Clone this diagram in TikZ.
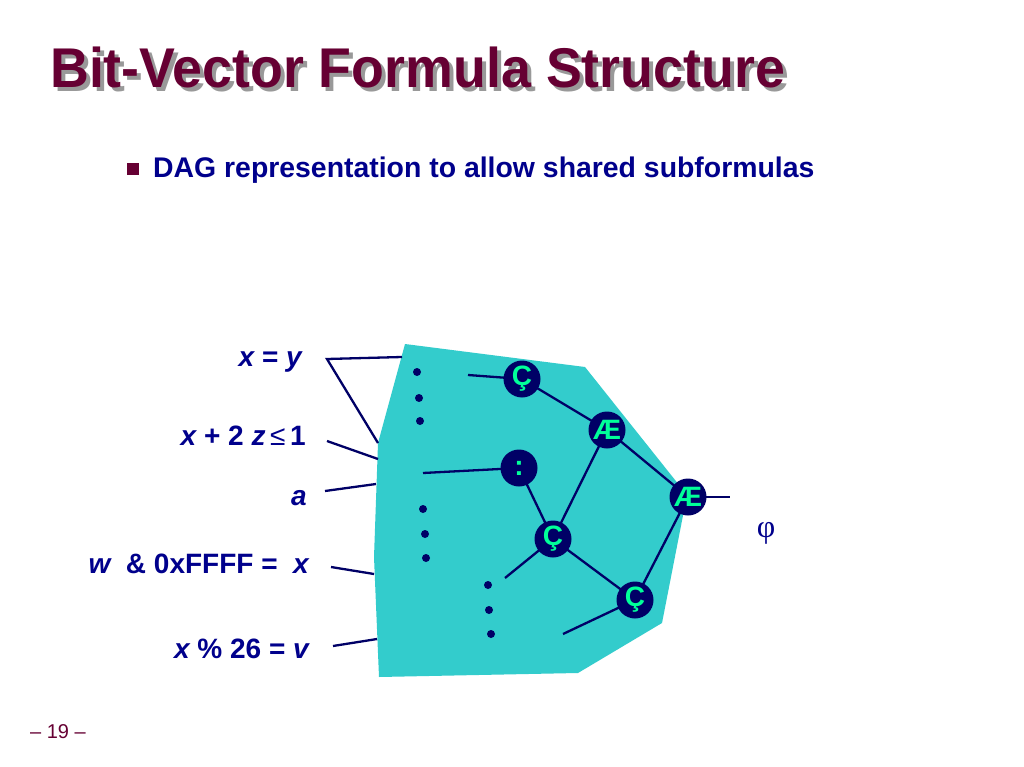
\documentclass[tikz,border=0pt]{standalone}
\usepackage{fontspec}
\setmainfont{Liberation Sans}
\newfontfamily\serifphi{Liberation Serif}
\begin{document}
\begin{tikzpicture}[x=1pt,y=-1pt,
  navyline/.style={draw=linenavy,line width=2.3pt},
  gate/.style={circle,fill=nodenavy,minimum size=37pt,inner sep=0pt,text=gategreen,font=\fontsize{28}{28}\selectfont\bfseries},
  lbl/.style={anchor=base east,inner sep=0pt,text=textnavy,font=\fontsize{28}{28}\selectfont\bfseries},
  dotmark/.style={circle,fill=nodenavy,minimum size=8pt,inner sep=0pt},
]
\definecolor{linenavy}{RGB}{0,0,102}
\definecolor{nodenavy}{RGB}{0,0,102}
\definecolor{textnavy}{RGB}{0,0,140}
\definecolor{gategreen}{RGB}{0,255,153}
\definecolor{maroon}{RGB}{102,0,51}
\definecolor{teal}{RGB}{51,204,204}
\definecolor{shadowgray}{RGB}{153,153,153}
\useasboundingbox (0,0) rectangle (1024,767);
\fill[white] (0,0) rectangle (1024,767);

% title with shadow
\node[anchor=base west,inner sep=0pt,text=shadowgray,font=\fontsize{56}{56}\selectfont\bfseries,xscale=0.96] (titleshadow) at (54,92) {Bit-Vector Formula Structure};
\node[anchor=base west,inner sep=0pt,text=maroon,font=\fontsize{56}{56}\selectfont\bfseries,xscale=0.96] (title) at (50,88) {Bit-Vector Formula Structure};

% bullet
\fill[maroon] (127,163) rectangle (139,175);
\node[anchor=base west,inner sep=0pt,text=textnavy,font=\fontsize{28.4}{28.4}\selectfont\bfseries] (sub) at (153,178) {DAG representation to allow shared subformulas};

% polygon
\fill[teal] (405,344) -- (585,367) -- (687,495) -- (662,623) -- (578,673) -- (379,677) -- (374,557) -- (378,443) -- cycle;

% labels
\node[lbl] (l1) at (302,366) {\itshape x\upshape{} = \itshape y};
\node[lbl] (l2) at (306,445) {\itshape x\upshape{} + 2 \itshape z\upshape{}\,{\mdseries ≤}\,1};
\node[lbl] (l3) at (307,505) {\itshape a};
\node[lbl] (l4) at (309,573) {\itshape w\upshape{}\ \ \& 0xFFFF =\ \ \itshape x};
\node[lbl] (l5) at (309,658) {\itshape x\upshape{} \% 26 = \itshape v};

% connector coordinates
\coordinate (j1) at (327,359);
\coordinate (e1a) at (402,357);
\coordinate (e1b) at (378,443);
\coordinate (j2) at (327,441);
\coordinate (e2) at (378,459);
\coordinate (j3) at (325,491);
\coordinate (e3) at (376,484);
\coordinate (j4) at (331,567);
\coordinate (e4) at (374,574);
\coordinate (j5) at (333,646);
\coordinate (e5) at (377,639);
\draw[navyline] (e1a) -- (j1) -- (e1b);
\draw[navyline] (j2) -- (e2);
\draw[navyline] (j3) -- (e3);
\draw[navyline] (j4) -- (e4);
\draw[navyline] (j5) -- (e5);

% gate positions
\coordinate (c1) at (522,379);
\coordinate (ae1) at (607,430);
\coordinate (col) at (519,468);
\coordinate (ae2) at (688,497);
\coordinate (c2) at (553,539);
\coordinate (c3) at (635,600);

\coordinate (in1) at (468,375);
\coordinate (in2) at (423,473);
\coordinate (in3) at (505,578);
\coordinate (in4) at (563,634);
\coordinate (out) at (730,497);

\draw[navyline] (in1) -- (c1);
\draw[navyline] (c1) -- (ae1);
\draw[navyline] (ae1) -- (ae2);
\draw[navyline] (ae2) -- (out);
\draw[navyline] (ae1) -- (c2);
\draw[navyline] (col) -- (c2);
\draw[navyline] (in2) -- (col);
\draw[navyline] (c2) -- (in3);
\draw[navyline] (c2) -- (c3);
\draw[navyline] (c3) -- (ae2);
\draw[navyline] (c3) -- (in4);

% gates on top of lines
\node[gate] (g1) at (c1) {Ç};
\node[gate] (g2) at (ae1) {Æ};
\node[gate] (g3) at (col) {:};
\node[gate] (g4) at (ae2) {Æ};
\node[gate] (g5) at (c2) {Ç};
\node[gate] (g6) at (c3) {Ç};
\draw[navyline] (ae2) ++(20,0) -- (out);

% dots
\node[dotmark] (d1) at (417,372) {};
\node[dotmark] (d2) at (419,398) {};
\node[dotmark] (d3) at (420,421) {};
\node[dotmark] (d4) at (423,509) {};
\node[dotmark] (d5) at (425,534) {};
\node[dotmark] (d6) at (426,558) {};
\node[dotmark] (d7) at (488,585) {};
\node[dotmark] (d8) at (489,610) {};
\node[dotmark] (d9) at (491,634) {};

% phi
\node[inner sep=0pt,text=textnavy,font=\fontsize{32}{32}\selectfont\serifphi] (phi) at (766,533) {φ};

% page number
\node[anchor=base west,inner sep=0pt,text=maroon,font=\fontsize{20}{20}\selectfont] (pg) at (30,738) {– 19 –};
\end{tikzpicture}
\end{document}
